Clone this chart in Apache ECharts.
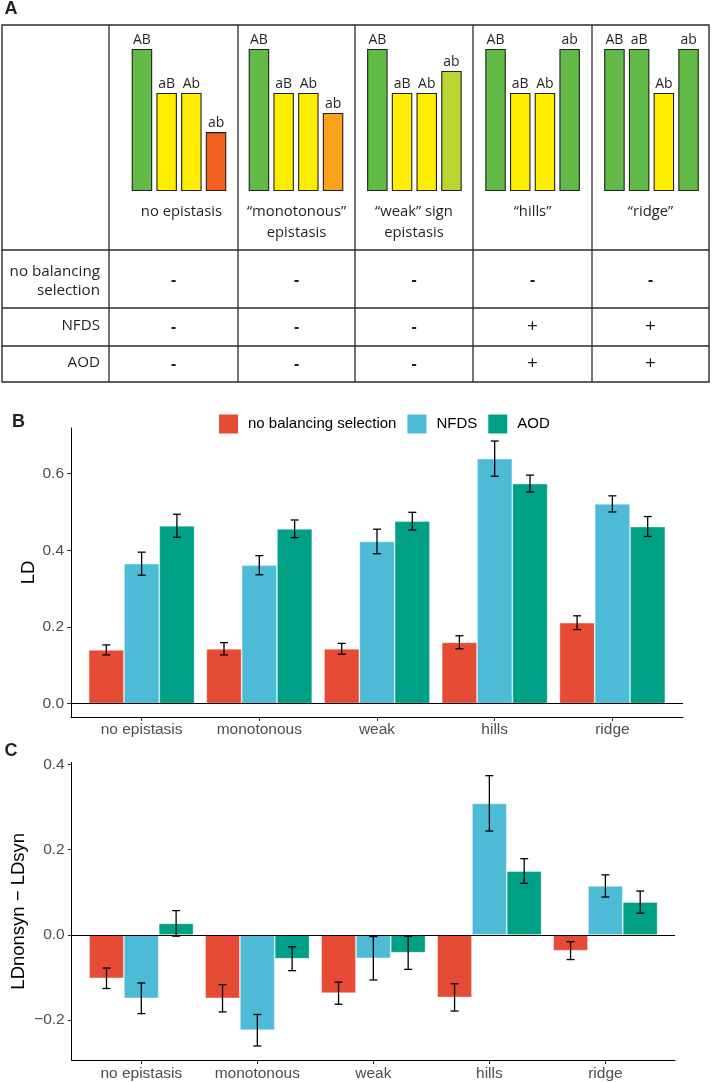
<!DOCTYPE html>
<html>
<head>
<meta charset="utf-8">
<script src="https://cdn.jsdelivr.net/npm/echarts@6/dist/echarts.min.js"></script>
<style>html,body{margin:0;padding:0;background:#fff;}#c{width:712px;height:1082px;}</style>
</head>
<body>
<div id="c"></div>
<script>
// ---------- Panel A data ----------
const genotypes = ['AB', 'aB', 'Ab', 'ab'];
const landscapeNames = ['no epistasis', 'monotonous', 'weak', 'hills', 'ridge'];
const fitNoEpistasis = [1.0, 0.69, 0.69, 0.415];
const fitMonotonous = [1.0, 0.69, 0.69, 0.55];
const fitWeak = [1.0, 0.69, 0.69, 0.845];
const fitHills = [1.0, 0.69, 0.69, 1.0];
const fitRidge = [1.0, 1.0, 0.69, 1.0];
const captionLines = [
  ['no epistasis'],
  ['\u201cmonotonous\u201d', 'epistasis'],
  ['\u201cweak\u201d sign', 'epistasis'],
  ['\u201chills\u201d'],
  ['\u201cridge\u201d']
];
const rowLabels = [['no balancing', 'selection'], ['NFDS'], ['AOD']];
const signNoBalancing = ['-', '-', '-', '-', '-'];
const signNFDS = ['-', '-', '-', '+', '+'];
const signAOD = ['-', '-', '-', '+', '+'];

// ---------- Panel B data (LD) ----------
const categories = ['no epistasis', 'monotonous', 'weak', 'hills', 'ridge'];
const seriesNames = ['no balancing selection', 'NFDS', 'AOD'];
const ldNoBal = [0.140, 0.143, 0.143, 0.160, 0.211];
const ldNoBalErr = [0.013, 0.016, 0.014, 0.017, 0.018];
const ldNFDS = [0.365, 0.361, 0.423, 0.639, 0.521];
const ldNFDSErr = [0.030, 0.025, 0.032, 0.046, 0.021];
const ldAOD = [0.464, 0.456, 0.476, 0.574, 0.462];
const ldAODErr = [0.030, 0.023, 0.023, 0.022, 0.026];
const ldTicks = [0, 0.2, 0.4, 0.6];

// ---------- Panel C data (LDnonsyn - LDsyn) ----------
const dNoBal = [-0.102, -0.149, -0.137, -0.147, -0.037];
const dNoBalErr = [0.024, 0.032, 0.026, 0.032, 0.021];
const dNFDS = [-0.149, -0.224, -0.055, 0.309, 0.115];
const dNFDSErr = [0.036, 0.037, 0.051, 0.065, 0.026];
const dAOD = [0.027, -0.056, -0.042, 0.150, 0.077];
const dAODErr = [0.030, 0.028, 0.039, 0.029, 0.026];
const dTicks = [-0.2, 0, 0.2, 0.4];

// ---------- styles ----------
const GREEN = '#62BB46', YEL = '#FFED00', ORG = '#F26122', ORG2 = '#F8A21D', LIME = '#BAD531';
const miniColors = [
  [GREEN, YEL, YEL, ORG],
  [GREEN, YEL, YEL, ORG2],
  [GREEN, YEL, YEL, LIME],
  [GREEN, YEL, YEL, GREEN],
  [GREEN, GREEN, YEL, GREEN]
];
const barColors = ['#E64B35', '#4DBBD5', '#00A087'];
const fontA = '"Open Sans", "Noto Sans", sans-serif';
const fontB = '"Liberation Sans", Arial, sans-serif';

const chart = echarts.init(document.getElementById('c'), null, { renderer: 'canvas' });

const grids = [], xAxes = [], yAxes = [], series = [];

// Panel A mini bar charts
const miniCenters = [179, 296, 414.4, 532.6, 651.5];
const miniData = [fitNoEpistasis, fitMonotonous, fitWeak, fitHills, fitRidge];
miniData.forEach(function (vals, i) {
  grids.push({ left: miniCenters[i] - 49.4, top: 49, width: 98.8, height: 142 });
  xAxes.push({ type: 'category', gridIndex: i, data: genotypes, show: false });
  yAxes.push({ type: 'value', gridIndex: i, min: 0, max: 1, show: false });
  series.push({
    type: 'bar', xAxisIndex: i, yAxisIndex: i, data: vals, barWidth: 20.5,
    itemStyle: {
      color: function (p) { return miniColors[i][p.dataIndex]; },
      borderColor: '#231F20', borderWidth: 1.1
    },
    label: { show: true, position: 'top', distance: 2, formatter: '{b}', fontSize: 14, fontFamily: fontA, color: '#231F20' },
    silent: true
  });
});

// Panels B and C
function errRenderer(offset) {
  return function (params, api) {
    const x = api.value(0), y = api.value(1), e = api.value(2);
    const t = api.coord([x + offset, y + e]);
    const b = api.coord([x + offset, y - e]);
    const hw = 4;
    const st = { stroke: '#000', lineWidth: 1.3 };
    return {
      type: 'group', children: [
        { type: 'line', shape: { x1: t[0], y1: t[1], x2: b[0], y2: b[1] }, style: st },
        { type: 'line', shape: { x1: t[0] - hw, y1: t[1], x2: t[0] + hw, y2: t[1] }, style: st },
        { type: 'line', shape: { x1: b[0] - hw, y1: b[1], x2: b[0] + hw, y2: b[1] }, style: st }
      ]
    };
  };
}

function addPanel(gi, grid, ymin, ymax, ticks, yName, nameGap, labelMargin, vals, errs) {
  grids.push(grid);
  xAxes.push({
    type: 'value', gridIndex: gi, min: 0.4, max: 5.6,
    axisLine: { show: true, onZero: false, lineStyle: { color: '#000', width: 1 } },
    axisTick: { show: true, customValues: [1, 2, 3, 4, 5], length: 4, lineStyle: { color: '#333', width: 1 } },
    axisLabel: {
      show: true, customValues: [1, 2, 3, 4, 5], margin: labelMargin,
      formatter: function (v) { return categories[Math.round(v) - 1]; },
      fontSize: 15.5, fontFamily: fontB, color: '#4D4D4D'
    },
    splitLine: { show: false }
  });
  yAxes.push({
    type: 'value', gridIndex: gi, min: ymin, max: ymax,
    name: yName, nameLocation: 'middle', nameGap: nameGap, nameMoveOverlap: false,
    nameTextStyle: { fontSize: 18.5, fontFamily: fontB, color: '#000' },
    axisLine: { show: true, onZero: false, lineStyle: { color: '#000', width: 1 } },
    axisTick: { show: true, customValues: ticks, length: 4, lineStyle: { color: '#333', width: 1 } },
    axisLabel: {
      show: true, customValues: ticks, margin: 7,
      formatter: function (v) { return (v < 0 ? '\u2212' : '') + Math.abs(v).toFixed(1); },
      fontSize: 15.5, fontFamily: fontB, color: '#4D4D4D'
    },
    splitLine: { show: false }
  });
  const offsets = [-0.3, 0, 0.3];
  vals.forEach(function (arr, k) {
    const s = {
      type: 'bar', name: seriesNames[k], xAxisIndex: gi, yAxisIndex: gi,
      data: arr.map(function (v, j) { return [j + 1, v]; }),
      barWidth: '30%', barGap: '0%',
      itemStyle: { color: barColors[k], borderColor: 'rgba(255,255,255,0.45)', borderWidth: 0.8 },
      silent: true, z: 2
    };
    if (k === 0) {
      s.markLine = {
        silent: true, symbol: ['none', 'none'], label: { show: false },
        lineStyle: { color: '#000', type: 'solid', width: 1.2 },
        data: [{ yAxis: 0 }], animation: false, z: 5
      };
    }
    series.push(s);
  });
  vals.forEach(function (arr, k) {
    series.push({
      type: 'custom', name: 'err' + gi + '_' + k, xAxisIndex: gi, yAxisIndex: gi,
      renderItem: errRenderer(offsets[k]),
      encode: { x: 0, y: 1 },
      data: arr.map(function (v, j) { return [j + 1, v, errs[k][j]]; }),
      z: 10, silent: true
    });
  });
}

addPanel(5, { left: 71, top: 428, width: 612, height: 289 }, -0.035, 0.719, ldTicks, 'LD', 33, 5,
  [ldNoBal, ldNFDS, ldAOD], [ldNoBalErr, ldNFDSErr, ldAODErr]);
addPanel(6, { left: 71.7, top: 762.5, width: 603.3, height: 297.5 }, -0.294, 0.405, dTicks, 'LDnonsyn \u2212 LDsyn', 43, 6,
  [dNoBal, dNFDS, dAOD], [dNoBalErr, dNFDSErr, dAODErr]);

// ---------- graphic: table of panel A, panel letters ----------
const g = [];
const lineStyle = { stroke: '#2b2b2b', lineWidth: 1.3 };
g.push({ type: 'rect', shape: { x: 2, y: 25, width: 707, height: 357 }, style: { fill: 'none', stroke: '#2b2b2b', lineWidth: 1.4 }, silent: true });
[109, 238, 355, 473, 592].forEach(function (x) {
  g.push({ type: 'line', shape: { x1: x, y1: 25, x2: x, y2: 382 }, style: lineStyle, silent: true });
});
[250, 308, 346].forEach(function (y) {
  g.push({ type: 'line', shape: { x1: 2, y1: y, x2: 709, y2: y }, style: lineStyle, silent: true });
});
const captionCenters = [181.5, 296.5, 414, 532.5, 650.5];
captionLines.forEach(function (lines, i) {
  lines.forEach(function (t, j) {
    g.push({ type: 'text', style: { text: t, x: captionCenters[i], y: 212 + j * 21, fontSize: 14.8, fontFamily: fontA, fill: '#231F20', align: 'center', verticalAlign: 'middle' }, silent: true });
  });
});
const rowY = [[272, 291], [326], [363]];
rowLabels.forEach(function (lines, i) {
  lines.forEach(function (t, j) {
    g.push({ type: 'text', style: { text: t, x: 100, y: rowY[i][j], fontSize: 15.2, fontFamily: fontA, fill: '#231F20', align: 'right', verticalAlign: 'middle' }, silent: true });
  });
});
const colCenters = [173.5, 296.5, 414, 532.5, 650.5];
const signRows = [signNoBalancing, signNFDS, signAOD];
const signY = [280, 327, 364];
signRows.forEach(function (row, i) {
  row.forEach(function (s, j) {
    g.push({ type: 'text', style: { text: s, x: colCenters[j], y: signY[i], fontSize: s === '-' ? 16 : 19, fontWeight: s === '-' ? 'bold' : 'normal', fontFamily: fontA, fill: '#231F20', align: 'center', verticalAlign: 'middle' }, silent: true });
  });
});
[['A', 11, 9], ['B', 18.5, 422], ['C', 11, 751]].forEach(function (p) {
  g.push({ type: 'text', style: { text: p[0], x: p[1], y: p[2], fontSize: 18, fontWeight: 'bold', fontFamily: fontB, fill: '#222', align: 'center', verticalAlign: 'middle' }, silent: true });
});

chart.setOption({
  animation: false,
  backgroundColor: '#fff',
  grid: grids,
  xAxis: xAxes,
  yAxis: yAxes,
  legend: {
    data: seriesNames, left: 214, top: 409.5, icon: 'rect', itemWidth: 19, itemHeight: 19, itemGap: 11,
    itemStyle: { borderWidth: 0 },
    textStyle: { fontSize: 15, fontFamily: fontB, color: '#000', padding: [0, 0, 0, 5] },
    selectedMode: false
  },
  series: series,
  graphic: g
});
</script>
</body>
</html>
